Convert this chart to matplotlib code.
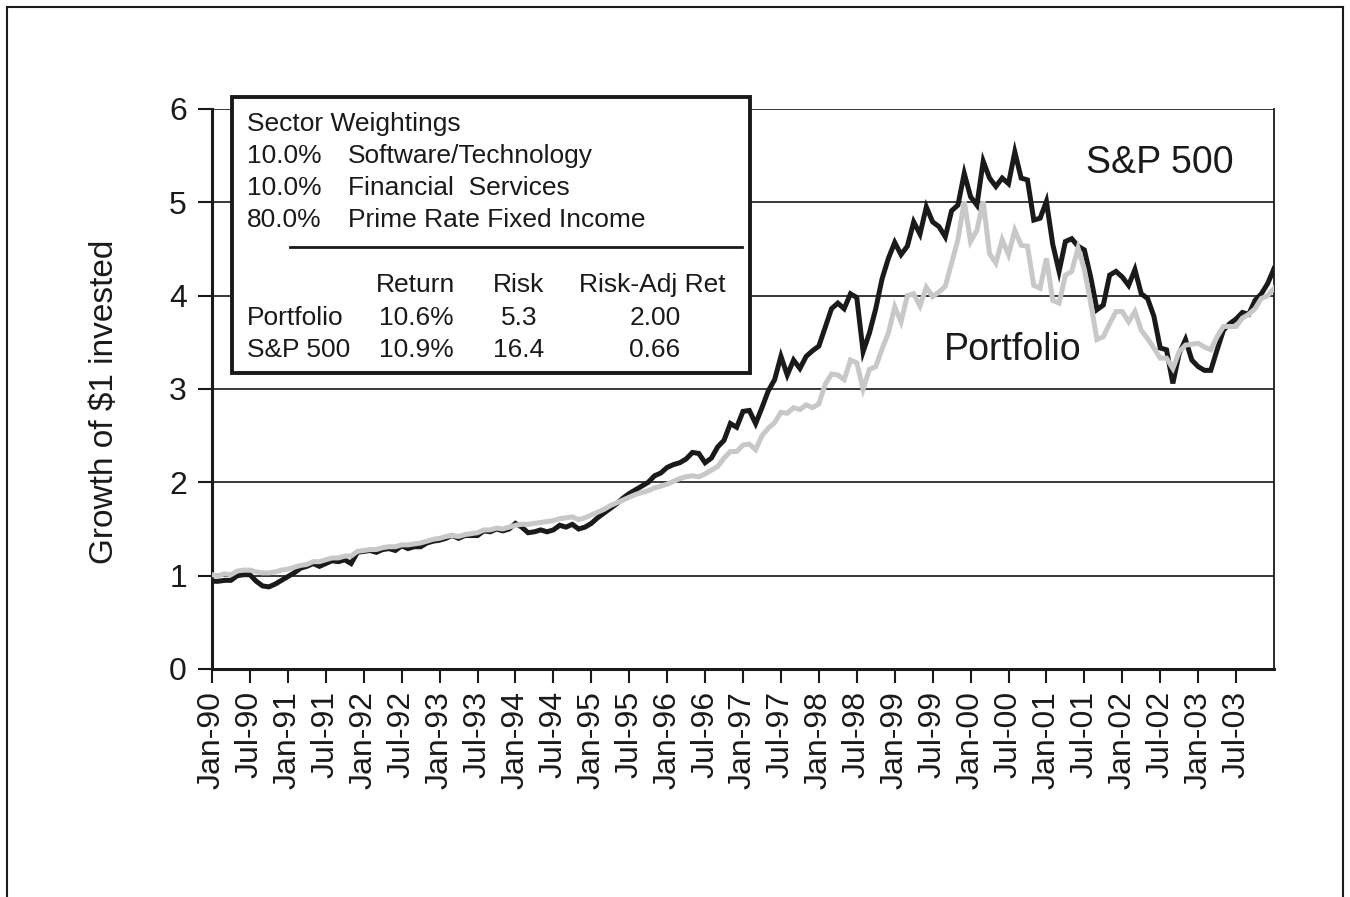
import matplotlib
matplotlib.use("Agg")
import matplotlib.pyplot as plt
from matplotlib.patches import Rectangle
from matplotlib.lines import Line2D

plt.rcParams['font.family'] = ['Liberation Sans', 'DejaVu Sans']

# ---- data (monthly, Jan-90 .. Jan-04) ----
sp500 = [
    0.94, 0.94, 0.95, 0.95, 1.00, 1.01, 1.01, 0.94, 0.89, 0.88, 0.91, 0.95,
    0.99, 1.03, 1.08, 1.10, 1.13, 1.10, 1.13, 1.16, 1.15, 1.17, 1.13, 1.25,
    1.26, 1.27, 1.25, 1.28, 1.29, 1.27, 1.32, 1.29, 1.31, 1.31, 1.35, 1.37,
    1.38, 1.40, 1.43, 1.40, 1.43, 1.43, 1.43, 1.48, 1.47, 1.50, 1.48, 1.50,
    1.56, 1.52, 1.46, 1.47, 1.49, 1.47, 1.49, 1.54, 1.52, 1.55, 1.50, 1.52,
    1.56, 1.62, 1.67, 1.72, 1.77, 1.83, 1.88, 1.92, 1.96, 2.00, 2.07, 2.10,
    2.16, 2.19, 2.21, 2.25, 2.32, 2.31, 2.21, 2.26, 2.38, 2.45, 2.63, 2.59,
    2.76, 2.77, 2.63, 2.80, 2.98, 3.10, 3.35, 3.15, 3.31, 3.22, 3.35, 3.41,
    3.46, 3.66, 3.86, 3.92, 3.86, 4.02, 3.98, 3.40, 3.60, 3.86, 4.18, 4.40,
    4.57, 4.44, 4.53, 4.79, 4.66, 4.95, 4.79, 4.74, 4.63, 4.91, 4.97, 5.31,
    5.06, 4.97, 5.44, 5.26, 5.17, 5.26, 5.20, 5.54, 5.26, 5.24, 4.81, 4.83,
    5.01, 4.55, 4.26, 4.58, 4.61, 4.53, 4.49, 4.20, 3.85, 3.90, 4.22, 4.26,
    4.20, 4.11, 4.28, 4.02, 3.97, 3.78, 3.44, 3.42, 3.06, 3.38, 3.53, 3.31,
    3.24, 3.20, 3.20, 3.42, 3.63, 3.70, 3.75, 3.82, 3.80, 3.95, 4.02, 4.13, 4.29,
]
portfolio = [
    1.01, 1.00, 1.02, 1.01, 1.05, 1.06, 1.06, 1.04, 1.03, 1.03, 1.04, 1.06,
    1.07, 1.09, 1.11, 1.12, 1.15, 1.15, 1.17, 1.19, 1.19, 1.21, 1.21, 1.26,
    1.27, 1.28, 1.28, 1.30, 1.31, 1.31, 1.33, 1.33, 1.34, 1.35, 1.37, 1.39,
    1.40, 1.42, 1.43, 1.42, 1.44, 1.45, 1.46, 1.49, 1.49, 1.51, 1.50, 1.52,
    1.54, 1.55, 1.55, 1.56, 1.57, 1.58, 1.59, 1.61, 1.62, 1.63, 1.60, 1.62,
    1.65, 1.68, 1.71, 1.75, 1.78, 1.81, 1.84, 1.87, 1.89, 1.91, 1.94, 1.96,
    1.98, 2.01, 2.04, 2.06, 2.07, 2.06, 2.09, 2.13, 2.17, 2.26, 2.33, 2.33,
    2.40, 2.41, 2.35, 2.50, 2.58, 2.64, 2.75, 2.74, 2.80, 2.78, 2.83, 2.80,
    2.84, 3.05, 3.16, 3.15, 3.10, 3.31, 3.28, 3.00, 3.21, 3.24, 3.43, 3.60,
    3.88, 3.72, 4.00, 4.02, 3.89, 4.09, 3.99, 4.04, 4.10, 4.35, 4.60, 5.01,
    4.58, 4.70, 5.01, 4.45, 4.35, 4.60, 4.44, 4.70, 4.54, 4.53, 4.11, 4.08,
    4.40, 3.95, 3.92, 4.22, 4.26, 4.51, 4.28, 3.92, 3.53, 3.56, 3.70, 3.83,
    3.83, 3.72, 3.83, 3.63, 3.54, 3.44, 3.33, 3.33, 3.22, 3.40, 3.47, 3.48,
    3.49, 3.45, 3.42, 3.56, 3.67, 3.67, 3.67, 3.76, 3.80, 3.86, 3.97, 4.00, 4.08,
]
tick_labels = [
    "Jan-90", "Jul-90", "Jan-91", "Jul-91", "Jan-92", "Jul-92", "Jan-93",
    "Jul-93", "Jan-94", "Jul-94", "Jan-95", "Jul-95", "Jan-96", "Jul-96",
    "Jan-97", "Jul-97", "Jan-98", "Jul-98", "Jan-99", "Jul-99", "Jan-00",
    "Jul-00", "Jan-01", "Jul-01", "Jan-02", "Jul-02", "Jan-03", "Jul-03",
]
y_ticks = [0, 1, 2, 3, 4, 5, 6]

weight_pcts = ["10.0%", "10.0%", "80.0%"]
weight_names = ["Software/Technology", "Financial  Services", "Prime Rate Fixed Income"]
stat_headers = ["Return", "Risk", "Risk-Adj Ret"]
stat_rows = ["Portfolio", "S&P 500"]
stat_returns = ["10.6%", "10.9%"]
stat_risks = ["5.3", "16.4"]
stat_radj = ["2.00", "0.66"]

W, H = 1350, 897
def fx(x):
    return x / W
def fy(y):
    return 1 - y / H

fig = plt.figure(figsize=(W / 100, H / 100), dpi=100)
ax = fig.add_axes([fx(212), fy(669), (1274 - 212) / W, (669 - 109) / H])

x = list(range(len(sp500)))
for v in y_ticks[1:]:
    ax.axhline(v, color='#2a2a2a', lw=1.3, zorder=1)
ax.plot(x, sp500, color='#1a1a1a', lw=3.6, zorder=3, solid_joinstyle='miter')
ax.plot(x, portfolio, color='#c8c8c8', lw=3.6, zorder=4, solid_joinstyle='miter')

ax.set_xlim(0, len(sp500) - 1)
ax.set_ylim(0, 6)
ax.set_yticks(y_ticks)
ax.set_yticklabels([str(v) for v in y_ticks], fontsize=23)
ax.set_xticks(list(range(0, 6 * len(tick_labels), 6)))
ax.set_xticklabels(tick_labels, rotation=90, fontsize=23, color='#1a1a1a')
ax.tick_params(axis='both', direction='out', length=10, width=1.5, colors='#1a1a1a')
ax.tick_params(axis='x', pad=6)
ax.tick_params(axis='y', pad=8)
ax.spines['top'].set_visible(False)
ax.spines['right'].set_linewidth(1.3)
ax.spines['left'].set_linewidth(2.2)
ax.spines['bottom'].set_linewidth(2.2)
for s in ax.spines.values():
    s.set_color('#1a1a1a')

fig.text(fx(105), fy(402), "Growth of $1 invested", rotation=90, ha='center',
         va='center', fontsize=24, color='#1a1a1a')

# annotations
ax.text(0.0, 0.0, "", transform=ax.transAxes)
fig.text(fx(1160), fy(163), "S&P 500", ha='center', va='center', fontsize=27, color='#1a1a1a')
fig.text(fx(1013), fy(350), "Portfolio", ha='center', va='center', fontsize=27, color='#1a1a1a')

# info box
box = Rectangle((fx(232), fy(373)), (750 - 232) / W, (373 - 97) / H,
                transform=fig.transFigure, facecolor='white', edgecolor='#1a1a1a',
                lw=2.8, zorder=10)
fig.add_artist(box)
fs = 19
tkw = dict(fontsize=fs, color='#1a1a1a', va='center', zorder=11)
fig.text(fx(247), fy(124), "Sector Weightings", ha='left', **tkw)
for k, (p, n) in enumerate(zip(weight_pcts, weight_names)):
    yy = 156 + 32 * k
    fig.text(fx(247), fy(yy), p, ha='left', **tkw)
    fig.text(fx(348), fy(yy), n, ha='left', **tkw)
fig.add_artist(Line2D([fx(290), fx(742)], [fy(247), fy(247)], transform=fig.transFigure,
                      color='#1a1a1a', lw=2, zorder=11))
for h, cx in zip(stat_headers, [415, 519, 652]):
    fig.text(fx(cx), fy(285), h, ha='center', **tkw)
for k in range(len(stat_rows)):
    yy = 318 + 32 * k
    fig.text(fx(247), fy(yy), stat_rows[k], ha='left', **tkw)
    fig.text(fx(416), fy(yy), stat_returns[k], ha='center', **tkw)
    fig.text(fx(519), fy(yy), stat_risks[k], ha='center', **tkw)
    fig.text(fx(655), fy(yy), stat_radj[k], ha='center', **tkw)

# outer frame
for xs, ys in [([7, 7], [7, 897]), ([7, 1343], [7, 7]), ([1343, 1343], [7, 897])]:
    fig.add_artist(Line2D([fx(v) for v in xs], [fy(v) for v in ys],
                          transform=fig.transFigure, color='#1a1a1a', lw=1.5))

fig.savefig("out.png", dpi=100, facecolor='white')
